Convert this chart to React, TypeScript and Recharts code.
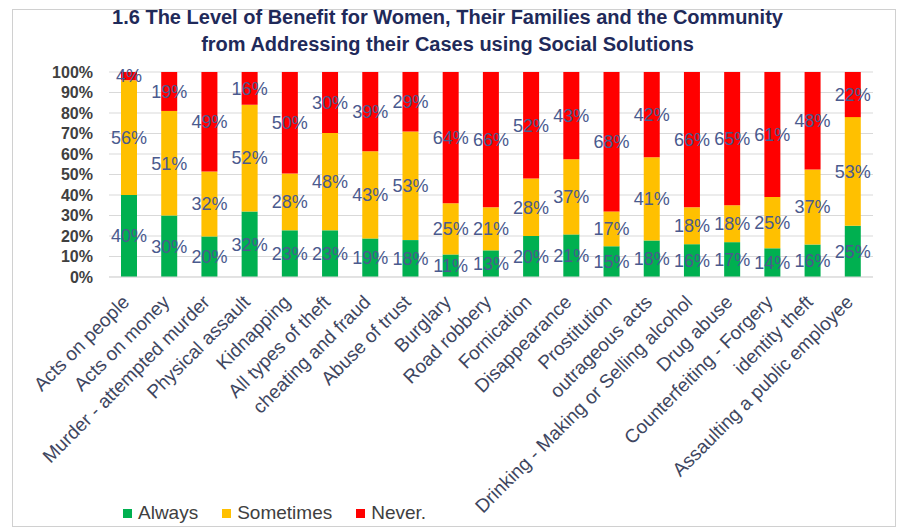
import React from "react";
import { BarChart, Bar, XAxis, YAxis, CartesianGrid, Legend, LabelList } from "recharts";

const categories = [
  "Acts on people",
  "Acts on money",
  "Murder - attempted murder",
  "Physical assault",
  "Kidnapping",
  "All types of theft",
  "cheating and fraud",
  "Abuse of trust",
  "Burglary",
  "Road robbery",
  "Fornication",
  "Disappearance",
  "Prostitution",
  "outrageous acts",
  "Drinking - Making or Selling  alcohol",
  "Drug abuse",
  "Counterfeiting - Forgery",
  "identity theft",
  "Assaulting a public employee",
];
const always = [40, 30, 20, 32, 23, 23, 19, 18, 11, 13, 20, 21, 15, 18, 16, 17, 14, 16, 25];
const sometimes = [56, 51, 32, 52, 28, 48, 43, 53, 25, 21, 28, 37, 17, 41, 18, 18, 25, 37, 53];
const never = [4, 19, 49, 16, 50, 30, 39, 29, 64, 66, 52, 43, 68, 42, 66, 65, 61, 48, 22];
const seriesNames = ["Always", "Sometimes", "Never."];
const yTicks = [0, 0.1, 0.2, 0.3, 0.4, 0.5, 0.6, 0.7, 0.8, 0.9, 1];

const data = categories.map((name, i) => ({
  name,
  Always: always[i],
  Sometimes: sometimes[i],
  "Never.": never[i],
}));

const FONT = "'Liberation Sans', Arial, sans-serif";
const LABEL_COLOR = "#4A5A8E";

const XTick = (props: any) => {
  const { x, y, payload } = props;
  return (
    <g transform={`translate(${x},${y})`}>
      <text
        x={0}
        y={0}
        dx={-12}
        dy={14}
        textAnchor="end"
        transform="rotate(-45)"
        fontSize={19}
        fontFamily={FONT}
        fill="#3E4660"
      >
        {payload.value}
      </text>
    </g>
  );
};

const LegendContent = (props: any) => {
  const { payload } = props;
  const items = [...(payload || [])].sort(
    (a: any, b: any) => seriesNames.indexOf(a.value) - seriesNames.indexOf(b.value)
  );
  return (
    <div style={{ display: "flex", alignItems: "center", height: 36, fontFamily: FONT, fontSize: 19, color: "#404040" }}>
      {items.map((p: any, i: number) => (
        <div key={i} style={{ display: "flex", alignItems: "center", marginRight: 24 }}>
          <div style={{ width: 9, height: 9, background: p.color, marginRight: 6 }} />
          <span>{p.value}</span>
        </div>
      ))}
    </div>
  );
};

const pct = (v: any) => `${v}%`;

export default function App() {
  return (
    <div style={{ position: "absolute", left: 0, top: 0, width: 897, height: 531, background: "#fff", fontFamily: FONT }}>
      <div
        style={{
          position: "absolute",
          left: 12,
          top: 9,
          width: 884,
          height: 518,
          border: "1px solid #D0D0D0",
          boxSizing: "border-box",
        }}
      />
      <div
        style={{
          position: "absolute",
          left: 0,
          top: 4,
          width: 897,
          paddingRight: 2,
          boxSizing: "border-box",
          textAlign: "center",
          fontWeight: "bold",
          fontSize: 20,
          lineHeight: "27px",
          color: "#1F2A5A",
          fontFamily: FONT,
        }}
      >
        <div>1.6 The Level of Benefit for Women, Their Families and the Community</div>
        <div>from Addressing their Cases using Social Solutions</div>
      </div>
      <BarChart
        width={897}
        height={531}
        data={data}
        stackOffset="expand"
        margin={{ top: 72, right: 24, left: 0, bottom: 0 }}
        style={{ position: "absolute", left: 0, top: 0 }}
      >
        <CartesianGrid vertical={false} stroke="#D9D9D9" />
        <XAxis
          dataKey="name"
          interval={0}
          height={218}
          tick={<XTick />}
          tickLine={false}
          axisLine={{ stroke: "#D9D9D9" }}
        />
        <YAxis
          width={109}
          ticks={yTicks}
          domain={[0, 1]}
          tickFormatter={(v: number) => `${Math.round(v * 100)}%`}
          tickLine={false}
          axisLine={false}
          tickMargin={10}
          tick={{ fontSize: 16, fontWeight: "bold", fill: "#404040", fontFamily: FONT }}
          interval={0}
        />
        <Legend
          verticalAlign="bottom"
          align="left"
          height={36}
          content={<LegendContent />}
          wrapperStyle={{ left: 123 }}
        />
        <Bar dataKey="Always" stackId="a" fill="#00B050" barSize={16} isAnimationActive={false}>
          <LabelList dataKey="Always" position="center" formatter={pct} fill={LABEL_COLOR} fontSize={18} fontFamily={FONT} />
        </Bar>
        <Bar dataKey="Sometimes" stackId="a" fill="#FFC000" barSize={16} isAnimationActive={false}>
          <LabelList dataKey="Sometimes" position="center" formatter={pct} fill={LABEL_COLOR} fontSize={18} fontFamily={FONT} />
        </Bar>
        <Bar dataKey="Never." stackId="a" fill="#FF0000" barSize={16} isAnimationActive={false}>
          <LabelList dataKey="Never." position="center" formatter={pct} fill={LABEL_COLOR} fontSize={18} fontFamily={FONT} />
        </Bar>
      </BarChart>
    </div>
  );
}
